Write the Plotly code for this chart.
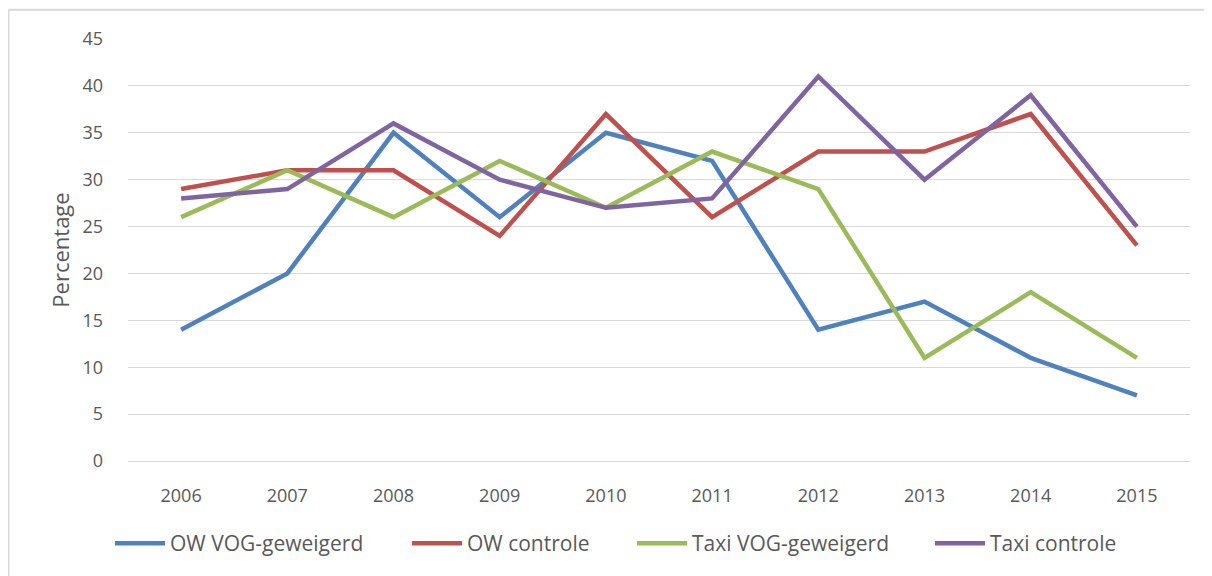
import plotly.graph_objects as go

years = [2006, 2007, 2008, 2009, 2010, 2011, 2012, 2013, 2014, 2015]
ow_vog = [14, 20, 35, 26, 35, 32, 14, 17, 11, 7]
ow_controle = [29, 31, 31, 24, 37, 26, 33, 33, 37, 23]
taxi_vog = [26, 31, 26, 32, 27, 33, 29, 11, 18, 11]
taxi_controle = [28, 29, 36, 30, 27, 28, 41, 30, 39, 25]

series = [
    ("OW VOG-geweigerd", ow_vog, "#4F81BD"),
    ("OW controle", ow_controle, "#C0504D"),
    ("Taxi VOG-geweigerd", taxi_vog, "#9BBB59"),
    ("Taxi controle", taxi_controle, "#8064A2"),
]
legend_starts = [115, 412, 637, 935]  # page x where each legend line begins

FONT = "Open Sans, sans-serif"

# page is offset by the 8px body margin
OFF = 8
W, H = 1212 - 2 * OFF, 576 - OFF
L, R, T = 128 - OFF, W - (1190 - OFF), 39 - OFF
B = H - (463 - OFF)
pw = W - L - R
ph = H - T - B

def px(xpage):
    return (xpage - OFF - L) / pw

def py(ypage):
    return (H - B - (ypage - OFF)) / ph

fig = go.Figure()
legend_layouts = {}
for i, (name, vals, col) in enumerate(series):
    lg = "legend" if i == 0 else f"legend{i + 1}"
    fig.add_trace(go.Scatter(x=years, y=vals, name=name, mode="lines",
                             line=dict(color=col, width=4.5), legend=lg))
    legend_layouts[lg] = dict(orientation="h", x=px(legend_starts[i] - 5), xanchor="left",
                              y=py(546), yanchor="middle", bgcolor="rgba(0,0,0,0)",
                              font=dict(size=21, color="#595959"), itemwidth=50)

# light frame (left and top edges visible)
fig.add_shape(type="line", xref="paper", yref="paper",
              x0=px(8.5), x1=px(8.5), y0=py(9.5), y1=py(600),
              line=dict(color="#D9D9D9", width=2), layer="below")
fig.add_shape(type="line", xref="paper", yref="paper",
              x0=px(8.5), x1=px(1230), y0=py(9.5), y1=py(9.5),
              line=dict(color="#D9D9D9", width=2), layer="below")

fig.update_layout(
    width=W, height=H,
    margin=dict(l=L, r=R, t=T, b=B),
    paper_bgcolor="white", plot_bgcolor="white",
    font=dict(family=FONT, color="#595959", size=18),
    showlegend=True,
    xaxis=dict(range=[2005.5, 2015.5], tickmode="array", tickvals=years,
               ticktext=[str(y) for y in years], showgrid=False,
               showline=True, linecolor="#D9D9D9", linewidth=1,
               ticks="", ticklabelstandoff=18, zeroline=False,
               tickfont=dict(size=18, color="#595959")),
    yaxis=dict(range=[0, 45], dtick=5, showgrid=True, gridcolor="#D9D9D9", gridwidth=1,
               zeroline=False, showline=False, ticks="", ticklabelstandoff=24,
               tickfont=dict(size=18, color="#595959"),
               title=dict(text="Percentage", font=dict(size=22, color="#595959"), standoff=6)),
    **legend_layouts,
)

fig.write_html("out.html")
